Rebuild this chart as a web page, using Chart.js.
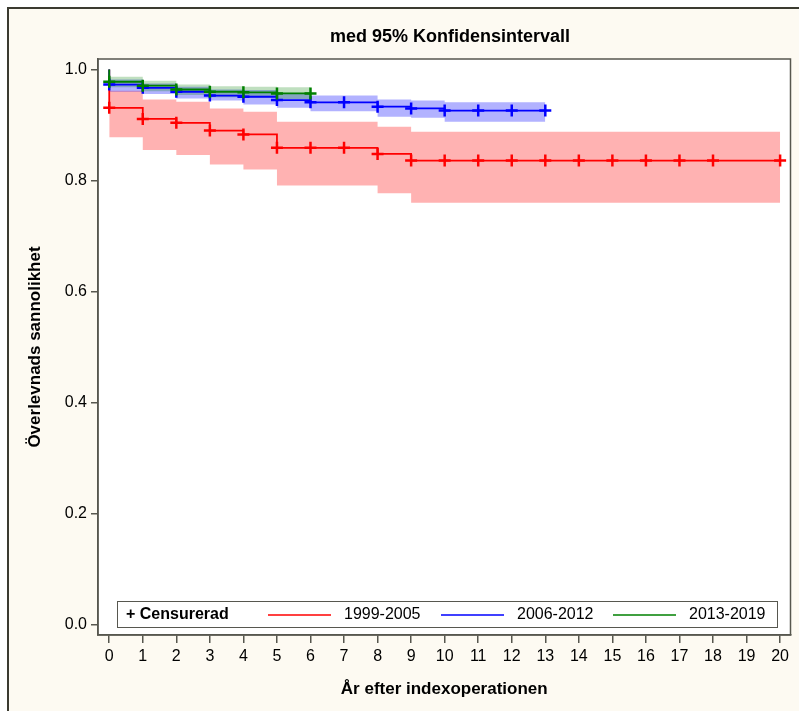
<!DOCTYPE html>
<html>
<head>
<meta charset="utf-8">
<script src="https://cdn.jsdelivr.net/npm/chart.js@4/dist/chart.umd.min.js"></script>
<style>
  body { margin: 0; background: #fff; }
  #frame { position: absolute; left: 7px; top: 7px; width: 820px; height: 730px;
           border: 2px solid #3b3b30; background: #fdfaf2; }
  #wrap { position: absolute; left: 0; top: 0; width: 799px; height: 711px; }
</style>
</head>
<body>
<div id="frame"></div>
<div id="wrap"><canvas id="c" width="799" height="711"></canvas></div>
<script>
// ── DATA ──────────────────────────────────────────────────────────
const xTicks = [0,1,2,3,4,5,6,7,8,9,10,11,12,13,14,15,16,17,18,19,20];
const yTicks = [0, 0.2, 0.4, 0.6, 0.8, 1.0];

const groups = ['1999-2005', '2006-2012', '2013-2019'];

// Kaplan-Meier steg (tid, överlevnad)
const redT   = [0, 0, 1, 2, 3, 4, 5, 8, 9, 20];
const redS   = [1, 0.931, 0.911, 0.904, 0.890, 0.883, 0.859, 0.848, 0.836, 0.836];
const redCiT = [0, 1, 2, 3, 4, 5, 8, 9, 20];
const redHi  = [0.962, 0.946, 0.942, 0.930, 0.924, 0.906, 0.897, 0.888, 0.888];
const redLo  = [0.878, 0.855, 0.846, 0.829, 0.820, 0.791, 0.777, 0.760, 0.760];
const redCens = [0,1,2,3,4,5,6,7,8,9,10,11,12,13,14,15,16,17,18,20];

const blueT   = [0, 0, 1, 2, 3, 4, 5, 6, 8, 9, 10, 13];
const blueS   = [1, 0.973, 0.967, 0.960, 0.953, 0.951, 0.945, 0.941, 0.933, 0.930, 0.926, 0.926];
const blueCiT = [0, 1, 2, 3, 4, 5, 6, 8, 9, 10, 13];
const blueHi  = [0.982, 0.975, 0.969, 0.964, 0.963, 0.957, 0.953, 0.946, 0.944, 0.941, 0.941];
const blueLo  = [0.960, 0.956, 0.948, 0.944, 0.937, 0.931, 0.925, 0.915, 0.913, 0.906, 0.906];
const blueCens = [0,1,2,3,4,5,6,7,8,9,10,11,12,13];

const greenT   = [0, 0, 1, 2, 3, 4, 5, 6];
const greenS   = [1, 0.978, 0.971, 0.964, 0.960, 0.959, 0.957, 0.957];
const greenCiT = [0, 1, 2, 3, 4, 5, 6];
const greenHi  = [0.987, 0.980, 0.973, 0.970, 0.969, 0.968, 0.968];
const greenLo  = [0.968, 0.961, 0.954, 0.950, 0.949, 0.947, 0.947];
const greenCens = [0,1,2,3,4,5,6];

// ── HJÄLPARE ──────────────────────────────────────────────────────
const FONT = '"Liberation Sans Narrow", "Liberation Sans", Arial, sans-serif';

function pts(xs, ys) {
  return xs.map((x, i) => ({ x, y: ys[i] }));
}

// överlevnad vid tid t (sista steget med tid <= t)
function survAt(ts, ss, t) {
  let v = ss[0];
  ts.forEach((tt, i) => { if (tt <= t) v = ss[i]; });
  return v;
}

function cens(ts, ss, times) {
  return times.map(t => ({ x: t, y: survAt(ts, ss, t) }));
}

function bandPair(ts, hi, lo, fillColor, order) {
  return [
    { data: pts(ts, hi), stepped: true, borderWidth: 0, pointRadius: 0,
      fill: '+1', backgroundColor: fillColor, order },
    { data: pts(ts, lo), stepped: true, borderWidth: 0, pointRadius: 0,
      fill: false, order },
  ];
}

function stepLine(ts, ss, color, order) {
  return { data: pts(ts, ss), stepped: true, borderColor: color, borderWidth: 1.8,
           pointRadius: 0, fill: false, order };
}

function censLine(ts, ss, times, color, order) {
  return { data: cens(ts, ss, times), showLine: false, pointStyle: 'cross',
           pointRadius: 6, pointBorderWidth: 2.5, borderColor: color,
           pointBorderColor: color, order };
}

const colors = ['#ff0000', '#0000ff', '#008000'];

// ── PLUGINS ───────────────────────────────────────────────────────
const plotBg = {
  id: 'plotBg',
  beforeDraw(chart) {
    const { ctx, chartArea: a } = chart;
    ctx.save();
    ctx.fillStyle = '#ffffff';
    ctx.fillRect(a.left, a.top, a.right - a.left, a.bottom - a.top);
    ctx.restore();
  },
  afterDraw(chart) {
    const { ctx, chartArea: a } = chart;
    ctx.save();
    ctx.strokeStyle = '#57574f';
    ctx.lineWidth = 1.5;
    ctx.strokeRect(a.left, a.top, a.right - a.left, a.bottom - a.top);

    // titel
    ctx.fillStyle = '#000';
    ctx.font = 'bold 18px ' + FONT;
    ctx.textAlign = 'center';
    ctx.textBaseline = 'middle';
    ctx.fillText('med 95% Konfidensintervall', 450, 37);

    // legend
    const lx = a.left + 19, ly = a.bottom - 34, lw = 660, lh = 26;
    ctx.fillStyle = '#fff';
    ctx.fillRect(lx, ly, lw, lh);
    ctx.strokeStyle = '#57574f';
    ctx.lineWidth = 1;
    ctx.strokeRect(lx + 0.5, ly + 0.5, lw, lh);
    const cy = ly + lh / 2 + 1;
    ctx.fillStyle = '#000';
    ctx.textAlign = 'left';
    ctx.font = 'bold 16px ' + FONT;
    ctx.fillText('+ Censurerad', lx + 9, cy);
    ctx.font = '16px ' + FONT;
    const starts = [268, 441, 613];
    groups.forEach((g, i) => {
      ctx.strokeStyle = colors[i];
      ctx.lineWidth = 1.5;
      ctx.beginPath();
      ctx.moveTo(starts[i], cy);
      ctx.lineTo(starts[i] + 63, cy);
      ctx.stroke();
      ctx.fillStyle = '#000';
      ctx.fillText(g, starts[i] + 76, cy);
    });
    ctx.restore();
  }
};

// ── DIAGRAM ───────────────────────────────────────────────────────
const datasets = [
  ...bandPair(redCiT, redHi, redLo, 'rgba(255,0,0,0.30)', 33),
  ...bandPair(blueCiT, blueHi, blueLo, 'rgba(0,0,255,0.30)', 32),
  ...bandPair(greenCiT, greenHi, greenLo, 'rgba(0,128,0,0.25)', 31),
  stepLine(redT, redS, colors[0], 23),
  stepLine(blueT, blueS, colors[1], 22),
  stepLine(greenT, greenS, colors[2], 21),
  censLine(redT, redS, redCens, colors[0], 13),
  censLine(blueT, blueS, blueCens, colors[1], 12),
  censLine(greenT, greenS, greenCens, colors[2], 11),
];

const tickFont = { family: FONT, size: 16 };
const titleFont = { family: FONT, size: 17, weight: 'bold' };

new Chart(document.getElementById('c'), {
  type: 'line',
  data: { datasets },
  options: {
    responsive: false,
    animation: false,
    layout: { padding: { top: 59, right: 4, left: 0, bottom: 0 } },
    plugins: { legend: { display: false }, tooltip: { enabled: false } },
    scales: {
      x: {
        type: 'linear', min: -0.335, max: 20.31,
        afterBuildTicks: s => { s.ticks = xTicks.map(v => ({ value: v })); },
        afterFit: s => { s.height = 76; },
        ticks: { color: '#000', font: tickFont, padding: 4, maxRotation: 0, autoSkip: false },
        grid: { drawOnChartArea: false, drawTicks: true, tickLength: 8, color: '#57574f', lineWidth: 1.5 },
        border: { color: '#57574f', width: 1.5 },
        title: { display: true, text: 'År efter indexoperationen', color: '#000', font: titleFont,
                 padding: { top: 0, bottom: 11 } },
      },
      y: {
        min: -0.019, max: 1.019,
        afterBuildTicks: s => { s.ticks = yTicks.map(v => ({ value: v })); },
        afterFit: s => { s.width = 98; },
        ticks: { color: '#000', font: tickFont, padding: 4, callback: v => v.toFixed(1) },
        grid: { drawOnChartArea: false, drawTicks: true, tickLength: 7, color: '#57574f', lineWidth: 1.5 },
        border: { color: '#57574f', width: 1.5 },
        title: { display: true, text: 'Överlevnads sannolikhet', color: '#000', font: titleFont,
                 padding: { top: 25, bottom: 0 } },
      },
    },
  },
  plugins: [plotBg],
});
</script>
</body>
</html>
